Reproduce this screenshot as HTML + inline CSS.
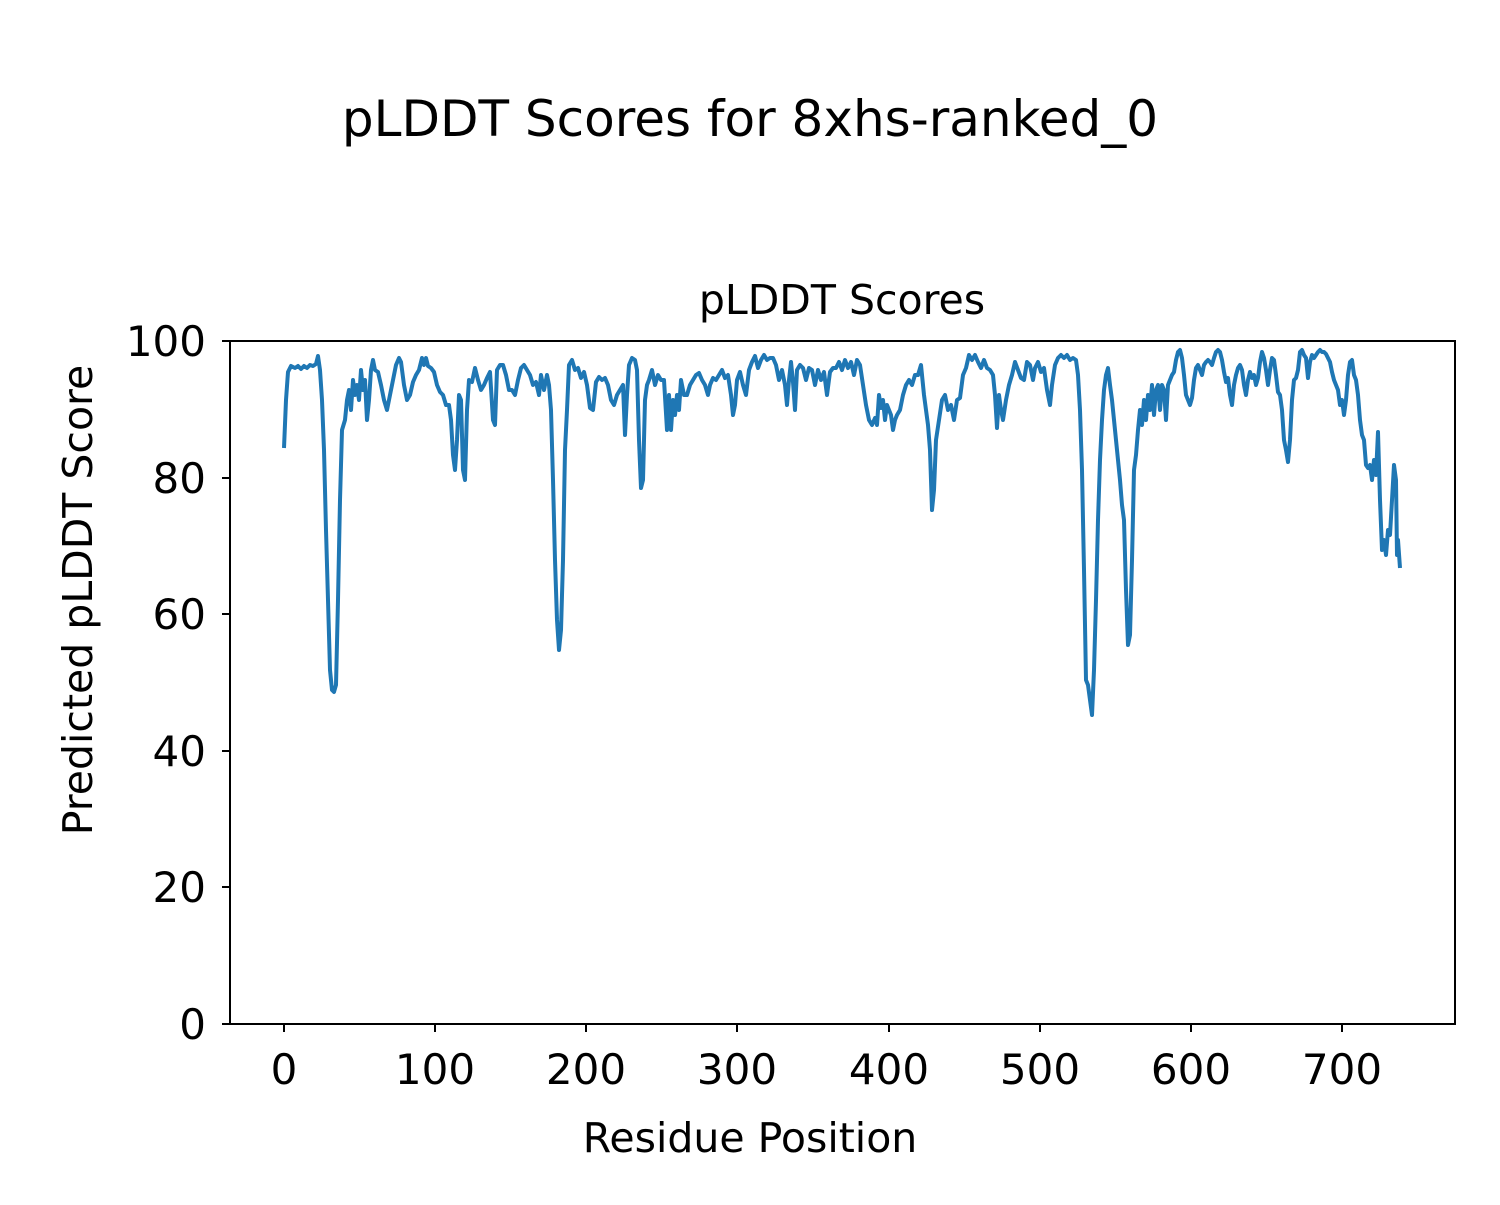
<!DOCTYPE html>
<html><head><meta charset="utf-8"><style>body{margin:0;background:#fff}</style></head><body>
<svg width="1500" height="1200" xmlns="http://www.w3.org/2000/svg" font-family="DejaVu Sans, Liberation Sans, sans-serif">
<rect width="1500" height="1200" fill="#fff"/>
<text x="750" y="136" font-size="50" text-anchor="middle">pLDDT Scores for 8xhs-ranked_0</text>
<text x="842" y="314" font-size="41" text-anchor="middle">pLDDT Scores</text>
<polyline fill="none" stroke="#1f77b4" stroke-width="4" stroke-linejoin="round" points="284,448 286,400 288,372 291,366 295,368 298,366 301,369 304,366 307,368 310,365 313,366 316,364 318,356 320,370 322,400 324,450 326,530 328,600 330,670 332,690 334,692 336,685 338,600 340,500 342,430 345,420 347,400 349,390 351,410 353,380 355,395 357,385 359,400 361,370 363,390 365,380 367,420 369,400 371,370 373,360 375,370 378,372 381,385 384,400 387,410 390,395 393,380 396,365 399,358 401,362 404,385 407,400 410,395 413,382 416,375 419,370 422,358 424,365 426,358 428,366 431,368 434,372 437,385 440,392 443,395 446,405 449,405 451,420 453,455 455,470 457,440 459,395 461,400 463,470 465,480 467,410 469,380 472,382 475,368 478,380 481,390 484,385 487,378 490,372 493,420 495,425 497,370 500,365 503,365 506,375 509,390 512,390 515,395 518,380 521,368 524,365 527,370 530,375 533,385 536,382 539,395 541,375 544,390 547,375 549,385 551,410 553,480 555,560 557,620 559,650 561,630 563,560 565,450 567,410 569,365 572,360 575,370 578,368 581,378 584,372 587,385 590,408 593,410 596,382 599,377 602,380 605,378 608,385 611,400 614,405 617,395 620,390 623,385 625,435 627,395 629,365 632,358 635,360 637,370 639,440 641,488 643,480 645,400 647,385 649,380 652,370 655,385 658,375 661,380 664,380 667,430 669,395 671,430 673,400 675,415 677,395 679,410 681,380 684,395 687,395 690,385 693,380 696,375 699,373 702,380 705,385 708,395 710,385 713,378 716,380 719,375 722,370 725,378 728,375 731,395 733,415 735,405 737,380 740,372 743,385 746,395 749,370 752,362 755,356 758,368 761,360 764,355 767,360 770,358 773,358 776,365 779,380 782,370 785,385 787,405 789,380 791,362 793,382 795,410 797,370 800,365 803,368 806,380 809,368 812,370 815,385 818,370 821,380 824,372 827,395 830,372 833,368 836,368 839,362 842,370 845,360 848,368 851,362 854,375 857,360 860,365 863,385 866,405 869,420 872,425 875,418 877,425 879,395 881,408 883,400 885,420 887,405 889,410 891,415 893,430 895,420 897,415 900,410 903,395 906,385 909,380 912,385 915,375 918,375 921,365 924,395 926,410 928,425 930,450 932,510 934,490 936,440 939,420 942,400 945,395 948,410 951,405 954,420 957,400 960,398 963,375 966,368 969,355 972,360 975,355 978,362 981,368 984,360 987,368 990,370 993,375 995,395 997,428 999,395 1001,410 1003,420 1006,400 1009,385 1012,375 1015,362 1018,370 1021,378 1024,380 1027,362 1030,365 1033,380 1035,368 1038,362 1041,372 1044,368 1047,390 1050,405 1052,385 1055,365 1058,358 1061,355 1064,358 1067,355 1070,360 1073,358 1076,360 1078,375 1080,410 1082,470 1084,570 1086,680 1088,685 1090,700 1092,715 1094,670 1096,600 1098,520 1100,460 1102,420 1104,390 1106,375 1108,368 1110,385 1112,400 1114,420 1116,440 1118,460 1120,480 1122,505 1124,520 1126,590 1128,645 1130,635 1132,560 1134,470 1136,455 1138,430 1140,410 1142,425 1144,400 1146,420 1148,395 1150,410 1152,385 1154,415 1156,390 1158,385 1160,410 1162,385 1164,390 1166,420 1168,385 1170,380 1172,375 1174,372 1176,360 1178,352 1180,350 1182,358 1184,375 1186,395 1188,400 1190,405 1192,398 1194,380 1196,368 1198,365 1200,370 1202,375 1204,365 1206,362 1208,360 1210,362 1212,365 1214,358 1216,352 1218,350 1220,352 1222,360 1224,372 1226,382 1228,378 1230,395 1232,405 1234,385 1236,375 1238,368 1240,365 1242,370 1244,385 1246,395 1248,380 1250,372 1252,378 1254,375 1256,385 1258,378 1260,362 1262,352 1264,358 1266,370 1268,385 1270,370 1272,358 1274,360 1276,375 1278,392 1280,395 1282,410 1284,440 1286,450 1288,462 1290,440 1292,400 1294,380 1296,378 1298,370 1300,352 1302,350 1304,355 1306,358 1308,378 1310,362 1312,355 1314,358 1316,355 1318,352 1320,350 1322,352 1324,352 1326,354 1328,358 1330,362 1332,372 1334,380 1336,385 1338,390 1340,405 1342,400 1344,415 1346,400 1348,375 1350,362 1352,360 1354,375 1356,380 1358,395 1360,420 1362,435 1364,440 1366,465 1368,468 1370,465 1372,480 1374,460 1376,475 1378,432 1380,500 1382,550 1384,540 1386,555 1388,530 1390,535 1392,500 1394,465 1396,480 1397,555 1398,540 1400,568"/>
<rect x="230" y="341" width="1225" height="683" fill="none" stroke="#000" stroke-width="2"/>
<g stroke="#000" stroke-width="2">
<line x1="230" y1="341" x2="222" y2="341"/><line x1="230" y1="478" x2="222" y2="478"/><line x1="230" y1="614" x2="222" y2="614"/><line x1="230" y1="751" x2="222" y2="751"/><line x1="230" y1="887" x2="222" y2="887"/><line x1="230" y1="1024" x2="222" y2="1024"/>
<line x1="284" y1="1024" x2="284" y2="1032"/><line x1="435" y1="1024" x2="435" y2="1032"/><line x1="586" y1="1024" x2="586" y2="1032"/><line x1="737" y1="1024" x2="737" y2="1032"/><line x1="889" y1="1024" x2="889" y2="1032"/><line x1="1040" y1="1024" x2="1040" y2="1032"/><line x1="1191" y1="1024" x2="1191" y2="1032"/><line x1="1342" y1="1024" x2="1342" y2="1032"/>
</g>
<g font-size="42" text-anchor="end">
<text x="206" y="356">100</text><text x="206" y="493">80</text><text x="206" y="629">60</text><text x="206" y="766">40</text><text x="206" y="902">20</text><text x="206" y="1039">0</text>
</g>
<g font-size="42" text-anchor="middle">
<text x="284" y="1084">0</text><text x="435" y="1084">100</text><text x="586" y="1084">200</text><text x="737" y="1084">300</text><text x="889" y="1084">400</text><text x="1040" y="1084">500</text><text x="1191" y="1084">600</text><text x="1342" y="1084">700</text>
</g>
<text x="750" y="1152" font-size="41" text-anchor="middle">Residue Position</text>
<text transform="translate(92,600) rotate(-90)" font-size="41" text-anchor="middle">Predicted pLDDT Score</text>
</svg>
</body></html>
